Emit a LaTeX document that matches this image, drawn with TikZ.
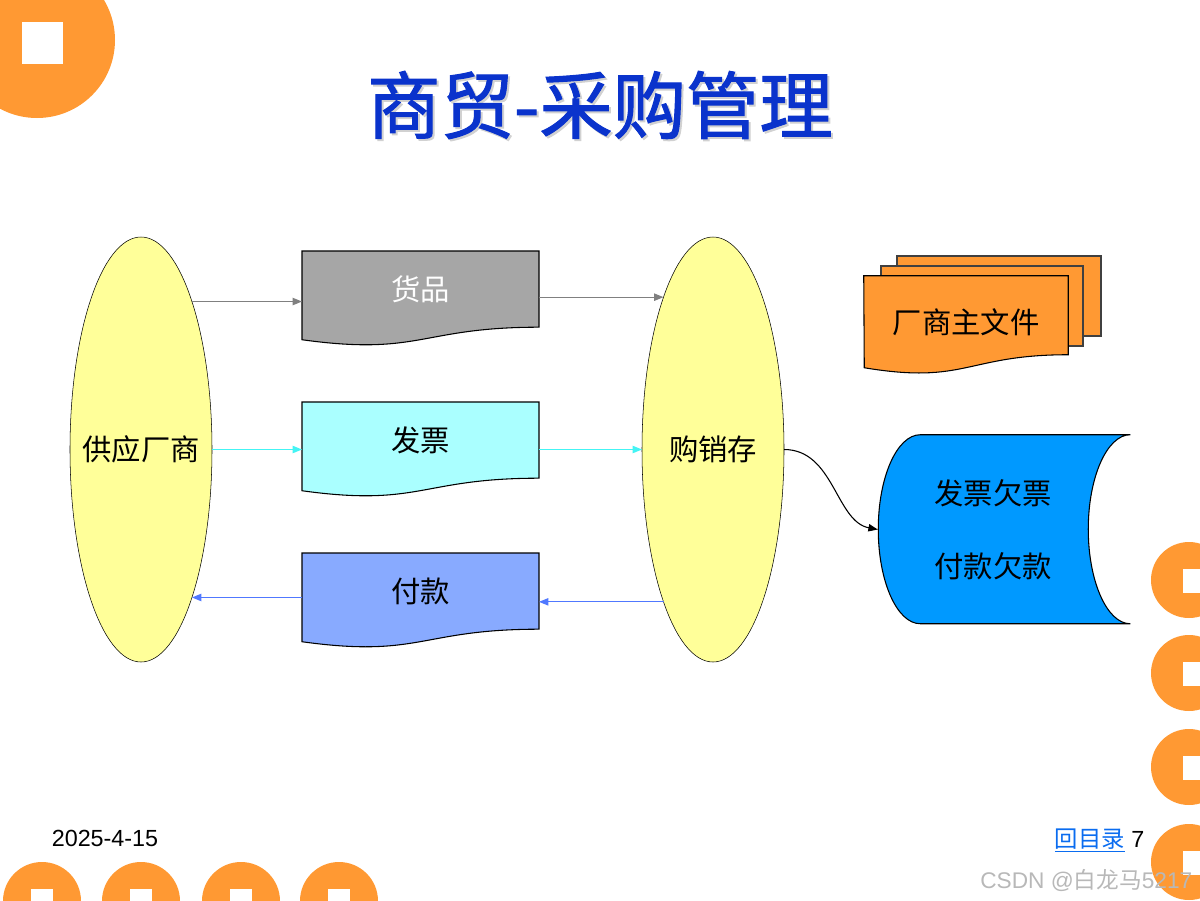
\documentclass[tikz,border=0pt]{standalone}
\usepackage{fontspec}
\setmainfont{Liberation Sans}
\newfontfamily\cjk{Noto Sans CJK SC}
\newfontfamily\cjkhead[FakeBold=1.4]{Noto Sans CJK SC}
\usepackage{tikz}
\usetikzlibrary{positioning,arrows.meta,shapes.geometric,backgrounds}
\usepackage{xcolor}
\definecolor{deco}{HTML}{FF9933}
\definecolor{pale}{HTML}{FFFF99}
\definecolor{goodsgray}{HTML}{A6A6A6}
\definecolor{invcyan}{HTML}{AAFFFF}
\definecolor{payblue}{HTML}{88AAFF}
\definecolor{drumblue}{HTML}{0099FF}
\definecolor{titleblue}{HTML}{0A33CC}
\definecolor{linkblue}{HTML}{0A6CF0}
\definecolor{invline}{HTML}{44F4F4}
\definecolor{payline}{HTML}{5078FF}

% wavy-bottom page drawn round a node: name, fill, width, height (px)
\newcommand\docpage[4]{\draw[fill=#2,line width=0.8pt] (#1.north west) -- (#1.north east) -- ++(0,0.802*#4)
  .. controls +(-0.5*#3,0) and +(0.5*#3,0.173*#4) .. ++(-#3,0.132*#4) -- cycle;}

\tikzset{
  party/.style={ellipse,draw,fill=pale,minimum width=142*0.75pt,minimum height=425*0.75pt,
    inner sep=0pt,outer sep=0pt,font=\cjk\fontsize{22}{26}\selectfont},
  docbox/.style={minimum width=237*0.75pt,minimum height=95*0.75pt,inner sep=0pt,outer sep=0pt},
  doctext/.style={font=\cjk\fontsize{22}{26}\selectfont},
  flow/.style={->,line width=0.8pt},
}

\begin{document}
\begin{tikzpicture}[x=0.75pt,y=-0.75pt,>={Triangle[length=7pt,width=5.5pt]}]
\useasboundingbox (0,0) rectangle (1200,900);
\clip (0,0) rectangle (1200,900);

% corner decorations
\fill[deco] (37,40) circle[radius=58.5pt];
\fill[white] (22,22) rectangle (63,64);
\foreach \cx in {42,141,241,339} {
  \fill[deco] (\cx,901) circle[radius=29.25pt];
  \fill[white] (\cx-11,889) rectangle (\cx+11,905);
}
\foreach \cy in {580,673,767,862} {
  \fill[deco] (1189,\cy) circle[radius=28.5pt];
  \fill[white] (1183,\cy-11) rectangle (1205,\cy+13);
}

% title
\node[text=black!18,font=\cjkhead\fontsize{55}{60}\selectfont] (titleshade) at (602,107) {商贸-采购管理};
\node[text=titleblue,font=\cjkhead\fontsize{55}{60}\selectfont] (title) at (600,105) {商贸-采购管理};

% the two parties
\node[party] (sup) at (141,449.5) {\makebox[0pt]{供应厂商}};
\node[party] (store) at (713,449.5) {\makebox[0pt]{购销存}};

% documents between them
\node[docbox,label={[doctext,text=white,yshift=7.1pt,name=goodsT]center:货品}] (goods) at (420.5,298.5) {};
\node[docbox,label={[doctext,yshift=7.1pt,name=invoiceT]center:发票}] (invoice) at (420.5,449.5) {};
\node[docbox,label={[doctext,yshift=7.1pt,name=paymentT]center:付款}] (payment) at (420.5,600.5) {};

% vendor master file and open items
\node[minimum width=204*0.75pt,minimum height=98.5*0.75pt,inner sep=0pt,
  label={[doctext,yshift=2.4pt,name=vendorT]center:厂商主文件}] (vendor) at (966,325.25) {};
\node[minimum width=252*0.75pt,minimum height=189*0.75pt,inner sep=0pt,
  label={[font=\cjk\fontsize{22}{55}\selectfont,align=center,xshift=-8.25pt,name=debtT]center:发票欠票\\付款欠款}] (debt) at (1004,529.5) {};

\begin{scope}[on background layer]
  \docpage{goods}{goodsgray}{237}{95}
  \docpage{invoice}{invcyan}{237}{95}
  \docpage{payment}{payblue}{237}{95}
  \draw[fill=deco,draw=black!75,line width=0.8pt] (897,256) rectangle (1101,336);
  \draw[fill=deco,draw=black!75,line width=0.8pt] (881,266) rectangle (1083,346);
  \docpage{vendor}{deco}{204}{98.5}
  \draw[fill=drumblue,line width=0.8pt] (debt.north east) -- ++(-210,0)
    .. controls +(-23.2,0) and +(0,-52.2) .. ++(-42,94.5)
    .. controls +(0,52.2) and +(-23.2,0) .. ++(42,94.5) -- ++(210,0)
    .. controls +(-23.2,0) and +(0,52.2) .. ++(-42,-94.5)
    .. controls +(0,-52.2) and +(-23.2,0) .. ++(42,-94.5) -- cycle;
\end{scope}

% flows
\draw[flow,gray] (sup.71.5) -- (sup.71.5 -| goods.west);
\draw[flow,gray] (store.108.5 -| goods.east) -- (store.108.5);
\draw[flow,invline] (sup.east) -- (invoice.west);
\draw[flow,invline] (invoice.east) -- (store.west);
\draw[flow,payline] (sup.-71.5 -| payment.west) -- (sup.-71.5);
\draw[flow,payline] (store.-108.5) -- (store.-108.5 -| payment.east);
\draw[flow] (store.east) .. controls +(50,0) and +(-42,-8) .. (debt.west);

% footer
\node[font=\fontsize{17.5}{20}\selectfont] (date) at (105,838) {2025-4-15};
\node[font=\fontsize{17.5}{20}\selectfont,anchor=east] (toc) at (1149,840) {\textcolor{linkblue}{\underline{\cjk 回目录}} 7};
\node[text=black!28,font=\fontsize{17}{20}\selectfont,anchor=east] (mark) at (1197,880) {CSDN @{\cjk 白龙马}5217};
\end{tikzpicture}
\end{document}
